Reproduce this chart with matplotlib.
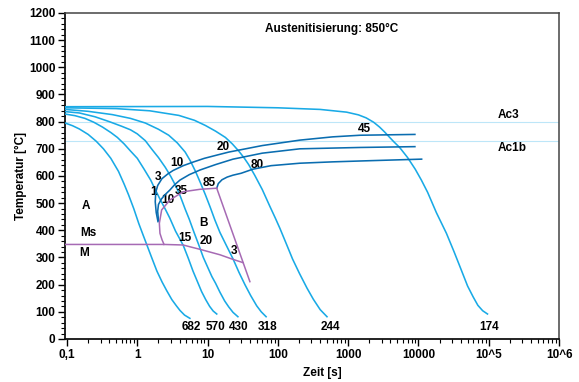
import matplotlib
matplotlib.use('Agg')
import matplotlib.pyplot as plt
from matplotlib.ticker import FixedLocator, LogLocator, MultipleLocator, NullFormatter

plt.rcParams['font.family'] = ['Liberation Sans', 'DejaVu Sans']
plt.rcParams['font.weight'] = 'bold'

# cooling curves (time s, temperature C), hardness at the end
cool_t = [
    [0.094, 0.12, 0.15, 0.2, 0.26, 0.33, 0.42, 0.54, 0.65, 0.75, 0.89, 1.05, 1.2, 1.36,
     1.6, 1.9, 2.25, 2.62, 3.1, 3.6, 4.05, 4.7, 5.6],
    [0.094, 0.13, 0.18, 0.24, 0.32, 0.42, 0.52, 0.65, 0.8, 1.0, 1.25, 1.55, 1.8, 2.1,
     2.5, 2.9, 3.5, 4.5, 5.3, 6.2, 7.2, 8.2, 9.4, 10.7, 12, 13.5],
    [0.094, 0.15, 0.25, 0.4, 0.6, 0.8, 1.0, 1.3, 1.65, 2.0, 2.5, 3.0, 3.5, 4.1, 4.8,
     5.5, 6.4, 7.5, 8.7, 10, 11.5, 13, 15, 17.5, 20, 23, 27],
    [0.094, 0.2, 0.44, 0.8, 1.3, 2.0, 2.8, 3.7, 4.8, 5.7, 6.7, 8.0, 9.3, 10.9, 12.7,
     15, 18.6, 23, 28, 34, 41, 50, 58, 68],
    [0.094, 0.5, 1.5, 3.9, 6.5, 9.3, 13, 17.9, 22.5, 27.7, 33, 38.4, 47, 60, 77, 92,
     107, 133, 162, 204, 260, 320, 400, 500],
    [0.094, 10, 100, 400, 950, 1400, 1800, 2300, 2800, 3300, 3800, 4500, 5400, 7000,
     9000, 11000, 13500, 18000, 25000, 32000, 39000, 50000, 60000, 70000, 82000, 96000],
]
cool_T = [
    [795, 785, 773, 753, 728, 700, 665, 617, 570, 531, 480, 425, 385, 348,
     300, 250, 210, 178, 145, 122, 105, 88, 76],
    [828, 822, 812, 798, 780, 760, 742, 718, 692, 665, 625, 585, 550, 515,
     478, 445, 397, 345, 298, 250, 210, 175, 145, 120, 103, 92],
    [837, 832, 818, 800, 783, 770, 755, 730, 695, 668, 632, 598, 565, 525, 478,
     440, 393, 346, 300, 265, 230, 205, 172, 140, 118, 98, 82],
    [845, 838, 826, 812, 795, 772, 750, 722, 688, 655, 618, 572, 531, 485, 438,
     392, 343, 295, 245, 200, 160, 122, 100, 82],
    [851, 848, 840, 823, 805, 786, 765, 742, 718, 692, 667, 642, 602, 550, 488, 445,
     407, 348, 294, 240, 187, 146, 108, 82],
    [855, 856, 851, 845, 835, 825, 814, 798, 780, 762, 745, 725, 705, 668,
     625, 585, 540, 465, 389, 322, 266, 195, 155, 124, 104, 92],
]
hardness = ['682', '570', '430', '318', '244', '174']

# ferrite / pearlite start lines (dark blue)
fp_t = [
    [1.97, 1.86, 1.80, 1.83, 1.95, 2.24, 2.7, 3.22, 4.5, 6.2, 9, 13.6, 20, 28.9, 60, 205, 600, 1480, 8900],
    [2.0, 1.95, 2.0, 2.2, 2.5, 2.9, 3.4, 4.05, 5.5, 7.8, 13, 23, 60, 205, 1480, 8900],
    [13.5, 14.2, 16, 19, 23, 30, 44, 80, 205, 600, 1850, 11100],
]
fp_T = [
    [432, 465, 505, 540, 565, 590, 607, 620, 638, 651, 665, 677, 688, 696, 712, 732, 744, 750, 753],
    [436, 470, 495, 515, 532, 548, 568, 585, 605, 622, 642, 662, 684, 700, 705, 708],
    [555, 572, 586, 596, 603, 610, 625, 638, 647, 652, 656, 662],
]

# bainite start, martensite start, bainite end (purple)
bs_t = [13.5, 7.8, 4.5, 2.92, 2.22, 2.06, 2.1, 2.25, 2.4]
bs_T = [555, 551, 542, 512, 475, 426, 389, 365, 348]
ms_t = [0.0937, 2.4, 4.5, 5.5, 7.8, 15, 23, 32]
ms_T = [348, 348, 346, 340, 330, 310, 293, 281]
be_t = [13.5, 40]
be_T = [555, 211]

ac3 = 800
ac1b = 730

# phase fraction numbers along the lines
pct_labels = ['1', '3', '10', '10', '35', '85', '20', '80', '45', '15', '20', '3']
pct_t = [1.69, 1.99, 3.64, 2.76, 4.28, 10.6, 16.7, 50.9, 1680, 4.77, 9.5, 24]
pct_T = [542, 597, 647, 512, 545, 576, 708, 640, 773, 371, 362, 325]

# where the hardness numbers sit
hard_pos_t = [5.94, 13.1, 28.1, 71.8, 556, 1.0e5]
hard_pos_T = 45

light = '#19aae6'
dark = '#0a6db0'
purple = '#a66ab4'

fig = plt.figure(figsize=(5.79, 3.82), dpi=100)
ax = fig.add_axes([0.1123, 0.1126, 0.8532, 0.8534])

ax.axhline(ac3, color='#bde6f8', lw=0.8, zorder=1)
ax.axhline(ac1b, color='#bde6f8', lw=0.8, zorder=1)

for t, T in zip(cool_t, cool_T):
    ax.plot(t, T, color=light, lw=1.15, zorder=3)
for t, T in zip(fp_t, fp_T):
    ax.plot(t, T, color=dark, lw=1.15, zorder=4)
for t, T in [(bs_t, bs_T), (ms_t, ms_T), (be_t, be_T)]:
    ax.plot(t, T, color=purple, lw=1.1, zorder=5)

fs = 8.5
for lab, t in zip(hardness, hard_pos_t):
    ax.text(t, hard_pos_T, lab, ha='center', va='center', fontsize=fs, fontweight='bold')
for lab, t, T in zip(pct_labels, pct_t, pct_T):
    ax.text(t, T, lab, ha='center', va='center', fontsize=fs, fontweight='bold')

ax.text(0.186, 490, 'A', ha='center', va='center', fontsize=fs, fontweight='bold')
ax.text(0.2, 389, 'Ms', ha='center', va='center', fontsize=fs, fontweight='bold')
ax.text(0.176, 315, 'M', ha='center', va='center', fontsize=fs, fontweight='bold')
ax.text(8.7, 426, 'B', ha='center', va='center', fontsize=fs, fontweight='bold')
ax.text(1.94e5, 824, 'Ac3', ha='center', va='center', fontsize=fs, fontweight='bold')
ax.text(2.14e5, 703, 'Ac1b', ha='center', va='center', fontsize=fs, fontweight='bold')
ax.text(0.539, 0.951, 'Austenitisierung: 850°C', transform=ax.transAxes,
        ha='center', va='center', fontsize=fs, fontweight='bold')

ax.set_xscale('log')
ax.set_xlim(0.0937, 1e6)
ax.set_ylim(0, 1200)

ax.xaxis.set_major_locator(FixedLocator([0.1, 1, 10, 100, 1000, 10000, 1e5, 1e6]))
ax.set_xticklabels(['0,1', '1', '10', '100', '1000', '10000', '10^5', '10^6'])
ax.xaxis.set_minor_locator(LogLocator(base=10, subs=range(2, 10), numticks=20))
ax.xaxis.set_minor_formatter(NullFormatter())
ax.yaxis.set_major_locator(MultipleLocator(100))
ax.yaxis.set_minor_locator(MultipleLocator(20))

ax.tick_params(which='major', direction='out', length=5, width=1.0, labelsize=fs, pad=2)
ax.tick_params(which='minor', direction='out', length=2.8, width=0.8)
for lab in ax.get_xticklabels() + ax.get_yticklabels():
    lab.set_fontweight('bold')

for side in ['left', 'bottom']:
    ax.spines[side].set_linewidth(1.3)
    ax.spines[side].set_color('#111111')
for side in ['top', 'right']:
    ax.spines[side].set_linewidth(1.1)
    ax.spines[side].set_color('#444444')

ax.set_xlabel('Zeit [s]', fontsize=fs, fontweight='bold')
ax.xaxis.set_label_coords(0.52, -0.086)
ax.set_ylabel('Temperatur [°C]', fontsize=fs, fontweight='bold')
ax.yaxis.set_label_coords(-0.077, 0.5)

fig.savefig('out.png', dpi=100)
